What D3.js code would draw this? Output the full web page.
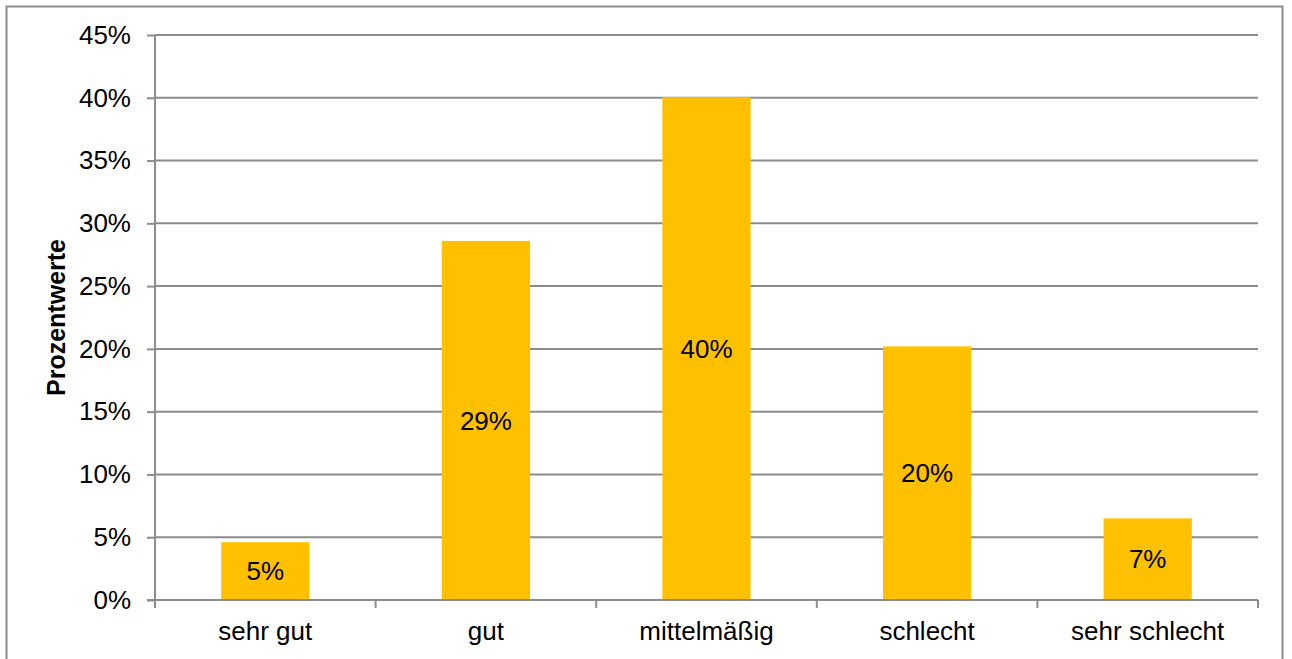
<!DOCTYPE html>
<html><head><meta charset="utf-8">
<script src="https://cdn.jsdelivr.net/npm/d3@7"></script>
<style>body{margin:0;background:#fff}svg{display:block}text{font-family:"Liberation Sans",Arial,sans-serif}</style>
</head><body>
<svg id="c" width="1292" height="659"></svg>
<script>
const categories = ["sehr gut","gut","mittelmäßig","schlecht","sehr schlecht"];
const values = [4.6, 28.6, 40.05, 20.2, 6.5];
const labels = ["5%","29%","40%","20%","7%"];
const yTicks = [0,5,10,15,20,25,30,35,40,45];
const yTitle = "Prozentwerte";

const svg = d3.select("#c");
const m = {l:155, r:1258, t:35, b:600};
svg.append("rect").attr("x",6.5).attr("y",6.5).attr("width",1276).attr("height",660)
  .attr("fill","#fff").attr("stroke","#8c8c8c").attr("stroke-width",2);

const x = d3.scaleBand().domain(categories).range([m.l,m.r]).paddingInner(0.6).paddingOuter(0.3);
const y = d3.scaleLinear().domain([0,45]).range([m.b,m.t]);

// grid
svg.append("g").selectAll("line").data(yTicks.filter(d=>d>0)).join("line")
  .attr("x1",m.l).attr("x2",m.r).attr("y1",d=>y(d)).attr("y2",d=>y(d))
  .attr("stroke","#8c8c8c").attr("stroke-width",2);

// bars
svg.append("g").selectAll("rect").data(values).join("rect")
  .attr("x",(d,i)=>x(categories[i])).attr("width",x.bandwidth())
  .attr("y",d=>y(d)).attr("height",d=>y(0)-y(d)).attr("fill","#ffc000");

// y axis
const ya = svg.append("g").attr("transform",`translate(${m.l},0)`)
  .call(d3.axisLeft(y).tickValues(yTicks).tickFormat(d=>d+"%").tickSize(8).tickPadding(16));
ya.select(".domain").attr("stroke","#8c8c8c").attr("stroke-width",2).attr("d",`M0,${m.t}V${m.b}`);
ya.selectAll(".tick line").attr("stroke","#8c8c8c").attr("stroke-width",2);
ya.selectAll(".tick text").attr("font-size",26).attr("fill","#000").attr("font-family","Liberation Sans, Arial, sans-serif");

// x axis
const bounds = d3.range(categories.length+1).map(i=>m.l + i*(m.r-m.l)/categories.length);
svg.append("line").attr("x1",m.l-8).attr("x2",m.r).attr("y1",m.b).attr("y2",m.b).attr("stroke","#8c8c8c").attr("stroke-width",2);
svg.append("g").selectAll("line").data(bounds).join("line")
  .attr("x1",d=>d).attr("x2",d=>d).attr("y1",m.b).attr("y2",m.b+8).attr("stroke","#8c8c8c").attr("stroke-width",2);
svg.append("g").selectAll("text").data(categories).join("text")
  .attr("x",d=>x(d)+x.bandwidth()/2).attr("y",640).attr("text-anchor","middle")
  .attr("font-size",26).attr("fill","#000").text(d=>d);

// bar labels
svg.append("g").selectAll("text").data(values).join("text")
  .attr("x",(d,i)=>x(categories[i])+x.bandwidth()/2).attr("y",d=>(y(d)+y(0))/2)
  .attr("dy","0.35em").attr("text-anchor","middle").attr("font-size",26).attr("fill","#000")
  .text((d,i)=>labels[i]);

// y title
svg.append("text").attr("transform",`translate(65,${(m.t+m.b)/2}) rotate(-90)`)
  .attr("text-anchor","middle").attr("font-size",25).attr("font-weight","bold").attr("fill","#000").text(yTitle);
</script>
</body></html>
